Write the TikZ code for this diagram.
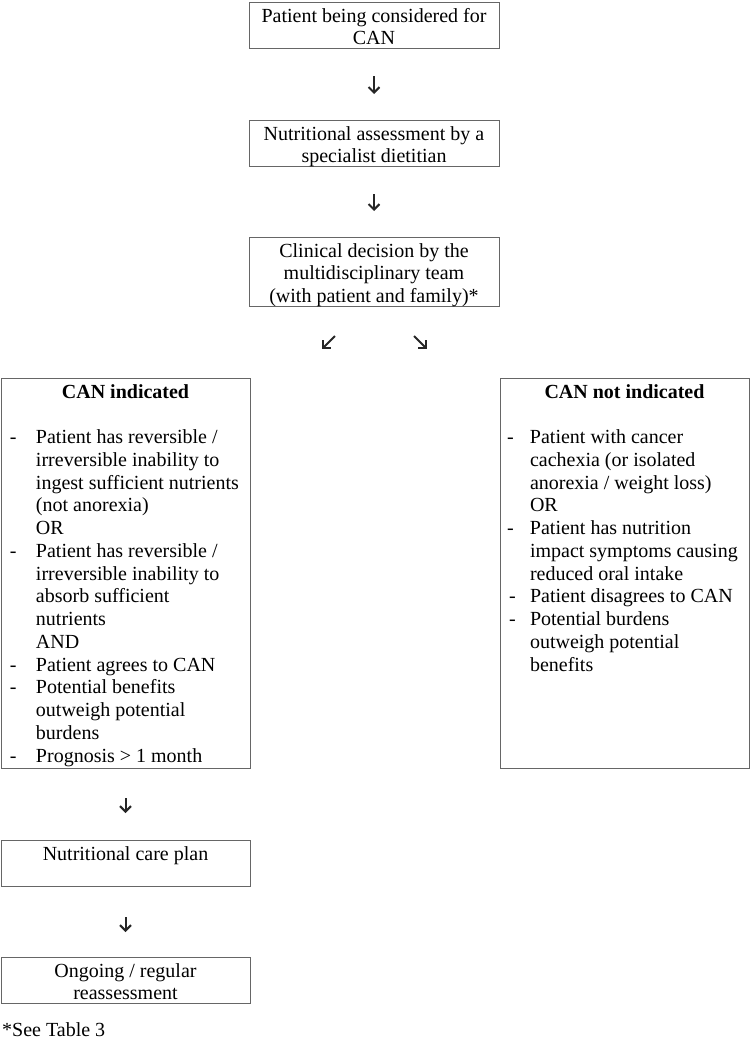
\documentclass[tikz,border=0pt]{standalone}
\usepackage{fontspec}
\setmainfont{Liberation Serif}
\usetikzlibrary{arrows.meta}
\newlength\dashoff
\newlength\textoff
\newcommand\litem[1]{\noindent\makebox[\textoff][l]{\hspace*{\dashoff}-}#1\strut\par}
\newcommand\lcont[1]{\noindent\hspace*{\textoff}#1\strut\par}
\newcommand\firststrut{\rule{0pt}{20pt}}
\begin{document}
\begin{tikzpicture}[x=1pt,y=-1pt,
  box/.style={draw=black!60, line width=0.8pt, inner sep=0pt, outer sep=0pt,
    anchor=north west, font=\fontsize{20}{22.75}\selectfont},
  arr/.style={draw=black!85, line width=2pt, line cap=butt,
    -{Straight Barb[length=5.5pt,width=11pt,line width=2pt]}}]
\useasboundingbox (0,0) rectangle (752,1044);

\node[box] (b1) at (249,2) {\parbox[c][46pt][t]{250pt}{\centering\firststrut Patient being considered for\\CAN}};
\node[box] (b2) at (249,120) {\parbox[c][46pt][t]{250pt}{\centering\firststrut Nutritional assessment by a\\specialist dietitian}};
\node[box] (b3) at (249,237) {\parbox[c][69pt][t]{250pt}{\centering\firststrut Clinical decision by the\\multidisciplinary team\\(with patient and family)*}};

\node[box] (bl) at (1,378) {\parbox[c][390pt][t]{249pt}{\setlength\dashoff{9pt}\setlength\textoff{35pt}%
  {\centering\firststrut\textbf{CAN indicated}\par}%
  \raggedright
  \noindent\strut\par
  \litem{Patient has reversible /}
  \lcont{irreversible inability to}
  \lcont{ingest sufficient nutrients}
  \lcont{(not anorexia)}
  \lcont{OR}
  \litem{Patient has reversible /}
  \lcont{irreversible inability to}
  \lcont{absorb sufficient}
  \lcont{nutrients}
  \lcont{AND}
  \litem{Patient agrees to CAN}
  \litem{Potential benefits}
  \lcont{outweigh potential}
  \lcont{burdens}
  \litem{Prognosis > 1 month}}};

\node[box] (br) at (500,378) {\parbox[c][390pt][t]{249pt}{\setlength\dashoff{7pt}\setlength\textoff{30pt}%
  {\centering\firststrut\textbf{CAN not indicated}\par}%
  \raggedright
  \noindent\strut\par
  \litem{Patient with cancer}
  \lcont{cachexia (or isolated}
  \lcont{anorexia / weight loss)}
  \lcont{OR}
  \litem{Patient has nutrition}
  \lcont{impact symptoms causing}
  \lcont{reduced oral intake}
  \setlength\dashoff{9pt}%
  \litem{Patient disagrees to CAN}
  \litem{Potential burdens}
  \lcont{outweigh potential}
  \lcont{benefits}}};

\node[box] (b6) at (1,840) {\parbox[c][46pt][t]{249pt}{\centering\firststrut Nutritional care plan}};
\node[box] (b7) at (1,957) {\parbox[c][46pt][t]{249pt}{\centering\firststrut Ongoing / regular\\reassessment}};

\node[anchor=base west, inner sep=0pt, font=\fontsize{20}{22.75}\selectfont] (note) at (2,1036) {*See Table 3};

\coordinate (dlS) at (335,336);
\coordinate (dlE) at (322,349);
\coordinate (drS) at (414,336);
\coordinate (drE) at (427,349);

\draw[arr, shorten <=28pt, shorten >=26pt] (b1.south) -- (b2.north);
\draw[arr, shorten <=28pt, shorten >=26pt] (b2.south) -- (b3.north);
\draw[arr] (dlS) -- (dlE);
\draw[arr] (drS) -- (drE);
\draw[arr, shorten <=30pt, shorten >=27pt] (bl.south) -- (b6.north);
\draw[arr, shorten <=31pt, shorten >=25pt] (b6.south) -- (b7.north);
\end{tikzpicture}
\end{document}
